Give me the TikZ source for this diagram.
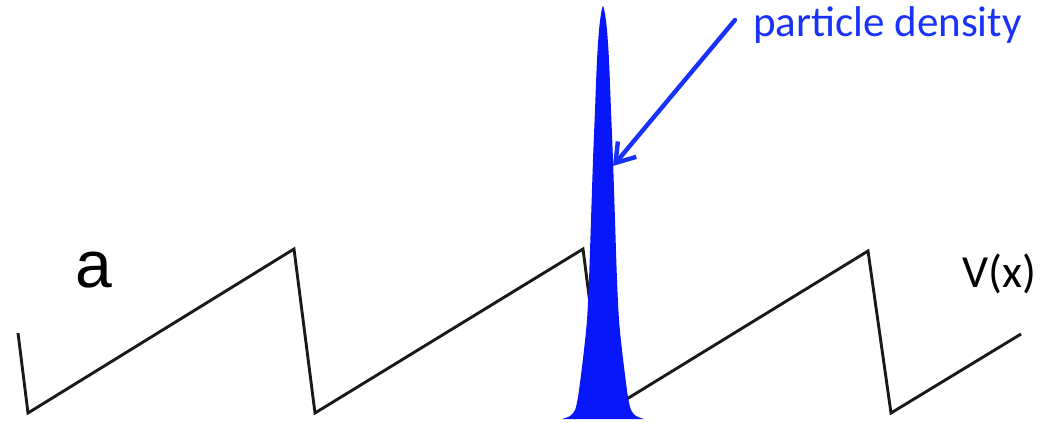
\documentclass[tikz,border=0pt]{standalone}
\usepackage{fontspec}
\setmainfont{Carlito}
\newfontfamily\arialfont{Liberation Sans}
\usetikzlibrary{arrows.meta}
\definecolor{peakblue}{RGB}{8,22,250}
\definecolor{labelblue}{RGB}{25,50,250}
\definecolor{sawblack}{RGB}{25,25,25}
\tikzset{
  sawline/.style={draw=sawblack, line width=2.9pt, line join=miter},
  peakfill/.style={fill=peakblue, draw=none},
  pointer/.style={draw=labelblue, line width=4.4pt, line cap=round,
    -{Straight Barb[length=18pt,width=24pt,line width=4.4pt]}},
  bluetext/.style={text=labelblue, inner sep=0pt, anchor=base west, font=\fontsize{43}{49}\selectfont},
  blacktext/.style={text=black, inner sep=0pt, anchor=base west},
}
\begin{document}
\begin{tikzpicture}[x=1pt,y=-1pt]
\useasboundingbox (0,0) rectangle (1050,423);
% sawtooth potential
\draw[sawline] (18,333) -- (28,413) -- (294,249) -- (315,413) -- (583,249)
  -- (604,413) -- (868,251) -- (891,413) -- (1021,334);
% particle density peak
\fill[peakfill] plot[smooth, tension=0.5] coordinates {
  (562,419) (570,416) (575,410) (578,397) (581,375) (584,350) (587,320)
  (589,280) (591,220) (593,160) (595,110) (597,60) (599,30) (601,14) (603,6)
  (605,14) (607,30) (609,60) (611,110) (613,160) (615,220) (617,280)
  (619,320) (622,350) (625,375) (628,397) (631,410) (636,416) (644,419)} -- cycle;
% labels
\node[blacktext, font=\arialfont\fontsize{66}{72}\selectfont] (alabel) at (75,287) {a};
\node[blacktext, font=\fontsize{46}{52}\selectfont] (vlabel) at (962,287) {V(x)};
\node[bluetext] (density) at (753,36) {particle density};
% pointer
\coordinate (arrowstart) at (735,20);
\coordinate (arrowtip) at (613,166);
\draw[pointer] (arrowstart) -- (arrowtip);
\end{tikzpicture}
\end{document}
